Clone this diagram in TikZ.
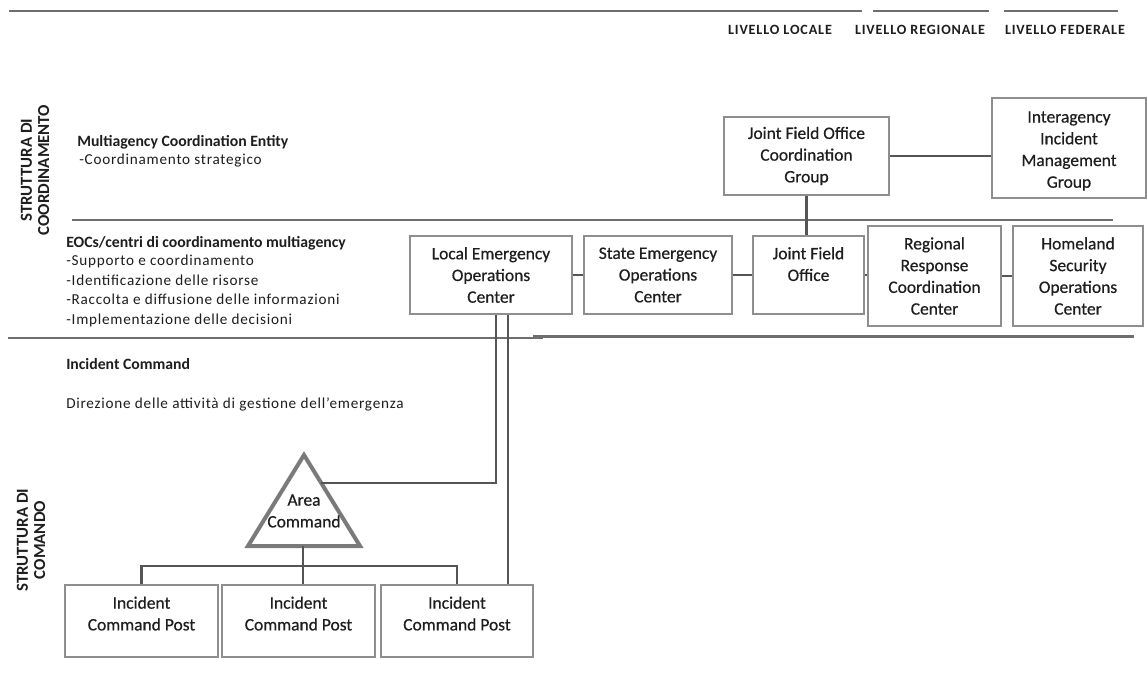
\documentclass[tikz,border=0pt]{standalone}
\usepackage{fontspec}
\setmainfont{Carlito}
\newfontfamily\boxfamily[FakeBold=0.5]{Carlito}
\newfontfamily\spacedfont[LetterSpace=5]{Carlito}
\newfontfamily\capsfont[LetterSpace=6]{Carlito}
\usetikzlibrary{calc}

\definecolor{ink}{HTML}{1E1E1E}
\definecolor{sepgray}{HTML}{6E6E6E}
\definecolor{boxgray}{HTML}{8E8E8E}
\definecolor{wiregray}{HTML}{555555}
\definecolor{trigray}{HTML}{7A7A7A}

\newcommand\bxf{\fontsize{13.1pt}{16.3pt}\boxfamily}
\newcommand\hdf{\fontsize{11.8pt}{13.5pt}\selectfont\bfseries}
\newcommand\lsf{\fontsize{11.4pt}{14.4pt}\spacedfont}
\newcommand\lvf{\fontsize{10.6pt}{12pt}\capsfont\bfseries}
\newcommand\sdf{\fontsize{12.6pt}{13pt}\selectfont\bfseries}

\tikzset{
  sepline/.style={draw=sepgray, line width=2.2},
  wire/.style={draw=wiregray, line width=1.7},
  box/.style={draw=boxgray, line width=1.3, fill=white, rectangle, inner sep=0pt,
              font=\bxf, align=center, text=ink},
  boxtxt/.style={font=\bxf, align=center, text=ink, inner sep=0pt},
  head/.style={font=\hdf, text=ink, anchor=base west, inner sep=0pt},
  item/.style={font=\lsf, text=ink, anchor=base west, inner sep=0pt},
  level/.style={font=\lvf, text=ink, anchor=base, inner sep=0pt},
  side/.style={font=\sdf, text=ink, rotate=90, align=center, inner sep=0pt},
}

\begin{document}
\begin{tikzpicture}[x=0.75pt, y=-0.75pt]
  \fill[white] (0,0) rectangle (1147,672);
  \useasboundingbox (0,0) rectangle (1147,672);

  % level rules and captions
  \draw[sepline] (9,11) -- (862,11);
  \draw[sepline] (873,11) -- (989,11);
  \draw[sepline] (1004,11) -- (1118,11);
  \node[level] (lvlloc) at (780,34) {LIVELLO LOCALE};
  \node[level] (lvlreg) at (920,34) {LIVELLO REGIONALE};
  \node[level] (lvlfed) at (1065,34) {LIVELLO FEDERALE};

  % band separators
  \draw[sepline] (72,220) -- (1113,220);
  \draw[sepline] (8,338) -- (543,338);
  \draw[sepline] (533,336.5) -- (1134,336.5);

  % side captions
  \node[side] (coordlab) at (35,170) {STRUTTURA DI\\COORDINAMENTO};
  \node[side] (cmdlab) at (31,540) {STRUTTURA DI\\COMANDO};

  % band descriptions
  \node[head] (mce) at (77,146) {Multiagency Coordination Entity};
  \node[item] (mcei) at (79,164) {-Coordinamento strategico};
  \node[head] (eoc) at (66,247) {EOCs/centri di coordinamento multiagency};
  \node[item] (eoci1) at (66,265.5) {-Supporto e coordinamento};
  \node[item] (eoci2) at (66,285) {-Identificazione delle risorse};
  \node[item] (eoci3) at (66,304.5) {-Raccolta e diffusione delle informazioni};
  \node[item] (eoci4) at (66,324) {-Implementazione delle decisioni};
  \node[head] (ic) at (66,369) {Incident Command};
  \node[item] (ici) at (66,408) {Direzione delle attività di gestione dell’emergenza};

  % coordination boxes
  \node[box, minimum width=165*0.75pt, minimum height=78*0.75pt] (jfocg) at (806.5,156) {Joint Field Office\\Coordination\\Group};
  \node[box, minimum width=154*0.75pt, minimum height=100*0.75pt,
        label={[boxtxt, name=iimgtxt, yshift=-2.2pt]center:{Interagency\\Incident\\Management\\Group}}] (iimg) at (1069,148) {};

  \node[box, minimum width=162*0.75pt, minimum height=78*0.75pt] (leoc) at (491,275) {Local Emergency\\Operations\\Center};
  \node[box, minimum width=148*0.75pt, minimum height=78*0.75pt] (seoc) at (658,275) {State Emergency\\Operations\\Center};
  \node[box, minimum width=111*0.75pt, minimum height=78*0.75pt,
        label={[boxtxt, name=jfotxt, yshift=8.2pt]center:{Joint Field\\Office}}] (jfo) at (808.5,275) {};
  \node[box, minimum width=133*0.75pt, minimum height=100*0.75pt] (rrcc) at (934.5,276) {Regional\\Response\\Coordination\\Center};
  \node[box, minimum width=130*0.75pt, minimum height=100*0.75pt] (hsoc) at (1078,276) {Homeland\\Security\\Operations\\Center};

  % connectors between coordination boxes
  \draw[wire] (jfocg.east) -- (jfocg.east -| iimg.west);
  \draw[wire] (jfocg.south) -- (jfocg.south |- jfo.north);
  \draw[wire] (leoc.east) -- (seoc.west);
  \draw[wire] (seoc.east) -- (jfo.west);
  \draw[wire] (jfo.east) -- (jfo.east -| rrcc.west);
  \draw[wire] (rrcc.east) -- (rrcc.east -| hsoc.west);

  % command posts
  \node[box, minimum width=153*0.75pt, minimum height=72*0.75pt,
        label={[boxtxt, name=icp1txt, yshift=5.6pt]center:{Incident\\Command Post}}] (icp1) at (141.5,621) {};
  \node[box, minimum width=153*0.75pt, minimum height=72*0.75pt,
        label={[boxtxt, name=icp2txt, yshift=5.6pt]center:{Incident\\Command Post}}] (icp2) at (298.5,621) {};
  \node[box, minimum width=152*0.75pt, minimum height=72*0.75pt,
        label={[boxtxt, name=icp3txt, yshift=5.6pt]center:{Incident\\Command Post}}] (icp3) at (457,621) {};

  % area command triangle
  \coordinate (apex) at (304,455);
  \coordinate (bl) at (248,546);
  \coordinate (br) at (360,546);
  \coordinate (tb) at (303,546);
  \coordinate (tr) at ($(apex)!0.308!(br)$);
  \draw[draw=trigray, line width=3, line join=miter, fill=white] (apex) -- (br) -- (bl) -- cycle;
  \node[boxtxt] (ac) at (304,511) {Area\\Command};

  % links from the local EOC down to the command structure
  \coordinate (leocA) at ($(leoc.south west)+(87,0)$);
  \coordinate (leocB) at ($(leoc.south west)+(99,0)$);
  \draw[wire] (leocA) |- (tr);
  \draw[wire] (leocB) -- (leocB |- icp3.north);

  % area command to incident command posts
  \draw[wire] (tb) -- (tb |- icp2.north);
  \draw[wire] (icp1.north) -- ++(0,-18) -| (icp3.north);
\end{tikzpicture}
\end{document}
